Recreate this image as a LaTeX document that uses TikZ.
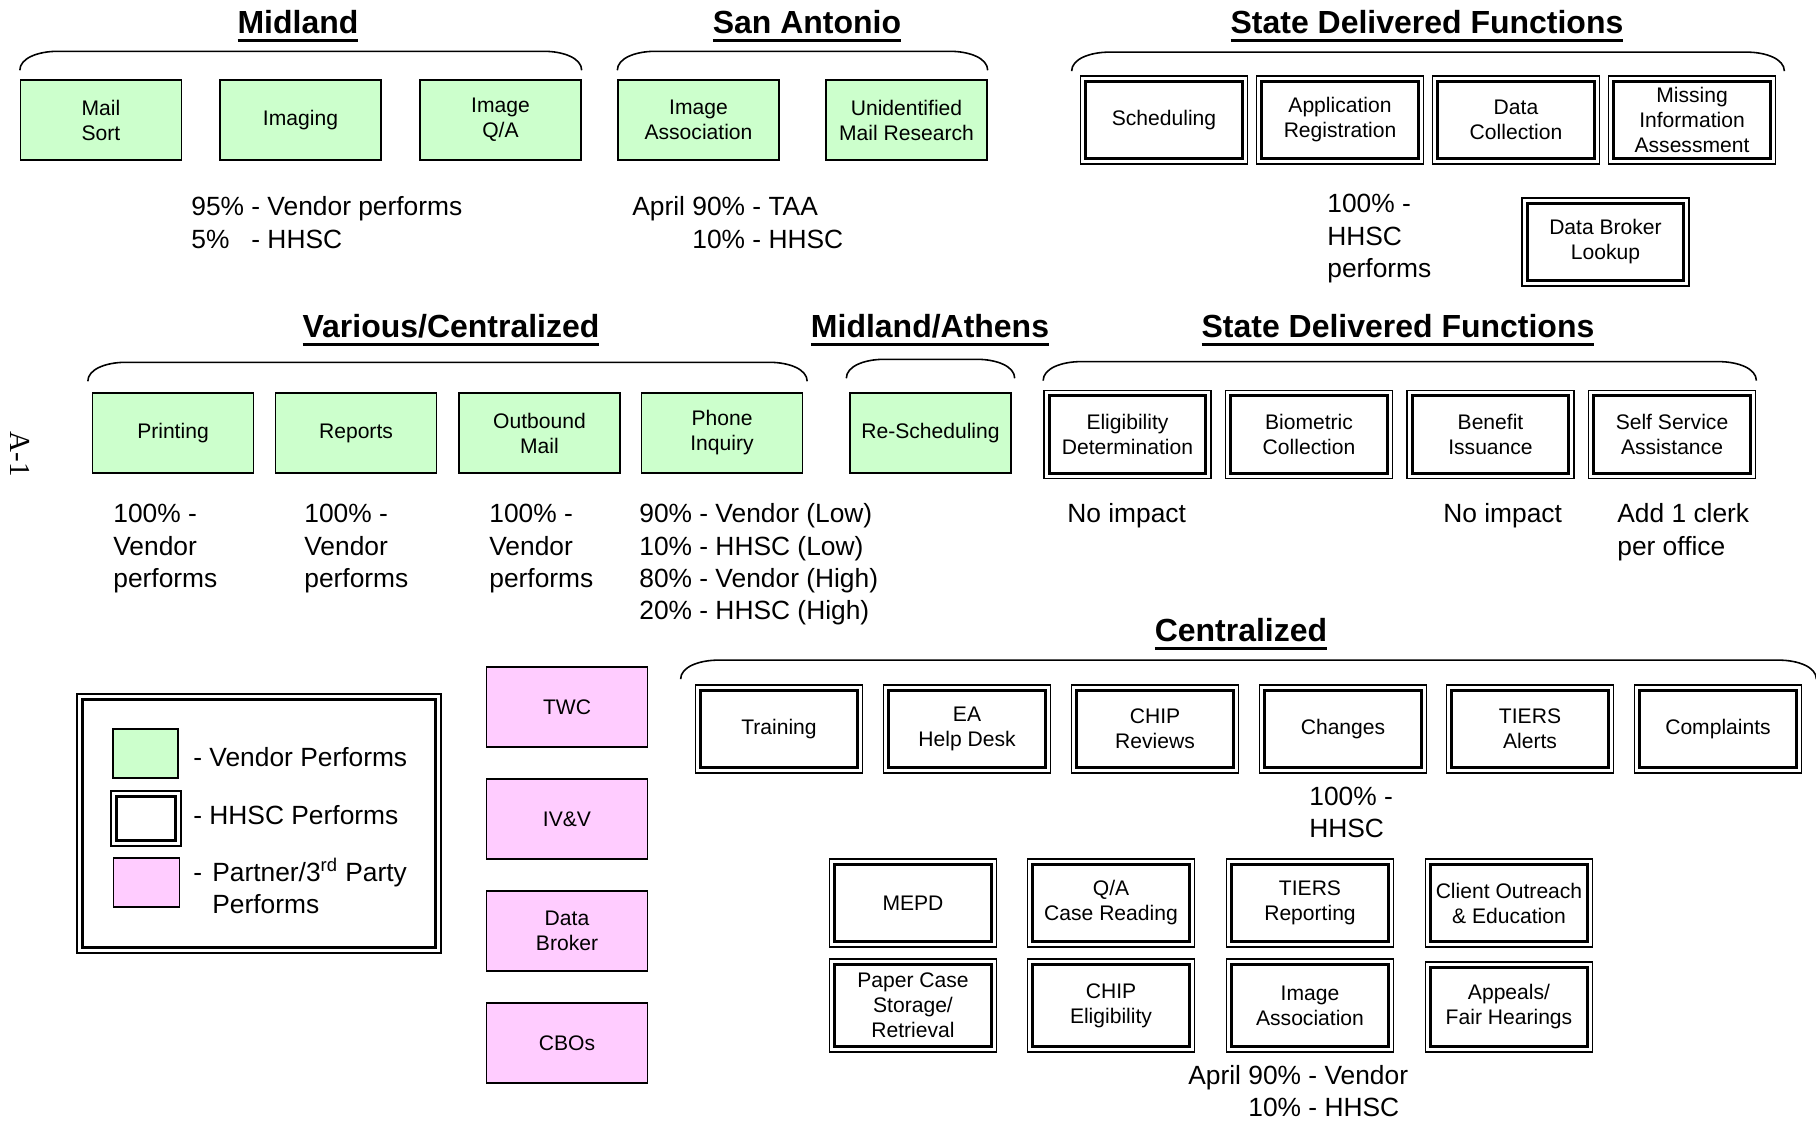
\documentclass[tikz,border=0pt]{standalone}
\usepackage{fontspec}
\setmainfont{Liberation Sans}
\newfontfamily\pagefont{Liberation Serif}
\usepackage{xcolor}
\definecolor{vendorgreen}{HTML}{CCFFCC}
\definecolor{partnerpink}{HTML}{FFCCFF}
\newsavebox\titlebox
\newcommand{\grouptitle}[1]{\sbox\titlebox{#1}\rlap{\usebox\titlebox}\rule[-4.3pt]{\wd\titlebox}{1.4pt}}

\begin{document}
\begin{tikzpicture}[x=0.02cm, y=-0.02cm,
    boxtext/.style={font=\fontsize{12}{14.2}\selectfont, align=center, inner sep=2pt},
    vendor/.style={boxtext, draw, line width=0.8pt, fill=vendorgreen, minimum width=3.22cm, minimum height=1.6cm},
    partner/.style={vendor, fill=partnerpink},
    hhsc/.style={boxtext, draw, line width=1pt, fill=white, minimum width=3.34cm, minimum height=1.76cm,
      path picture={\draw[line width=1.8pt] ([shift={(3pt,-3pt)}]path picture bounding box.north west)
        rectangle ([shift={(-3pt,3pt)}]path picture bounding box.south east);}},
    heading/.style={font=\bfseries\fontsize{18.2}{22}\selectfont, anchor=base, inner sep=0pt},
    note/.style={font=\fontsize{15}{18.4}\selectfont, anchor=base west, inner sep=0pt},
    hood/.style 2 args={line width=0.9pt, to path={([shift={(-#1,-#2)}]\tikztostart.north west)
      .. controls +(0,-12) and +(-20,0) .. ([shift={(38-#1,-#2-19)}]\tikztostart.north west)
      -- ([shift={(#1-38,-#2-19)}]\tikztotarget.north east)
      .. controls +(20,0) and +(0,-12) .. ([shift={(#1,-#2)}]\tikztotarget.north east)}}]

    \useasboundingbox (0,0) rectangle (1816,1121);

    % Midland
    \node[heading] (midlandttl) at (298,34) {\grouptitle{Midland}};
    \node[vendor] (mailsort) at (101,120) {Mail\\Sort};
    \node[vendor] (imaging) at (300.5,120) {Imaging};
    \node[vendor] (imageqa) at (500.5,120) {Image\\Q/A};
    \draw[hood={0}{9}] (mailsort) to (imageqa);
    \node[note] (midlandpct) at (191,216) {\begin{tabular}[t]{@{}l@{\ }l@{}}95\% & - Vendor performs\\5\% & - HHSC\end{tabular}};

    % San Antonio
    \node[heading] (santonttl) at (807,34) {\grouptitle{San Antonio}};
    \node[vendor] (imgassoc) at (698.5,120) {Image\\Association};
    \node[vendor] (unident) at (906.5,120) {Unidentified\\Mail Research};
    \draw[hood={0}{9}] (imgassoc) to (unident);
    \node[note] (santonpct) at (632,216) {\begin{tabular}[t]{@{}l@{\ }l@{}}April & 90\% - TAA\\ & 10\% - HHSC\end{tabular}};

    % State Delivered Functions (top)
    \node[heading] (statettl) at (1427,34) {\grouptitle{State Delivered Functions}};
    \node[hhsc] (sched) at (1164,120) {Scheduling};
    \node[hhsc] (appreg) at (1340,120) {Application\\Registration};
    \node[hhsc] (datacoll) at (1516,120) {Data\\Collection};
    \node[hhsc] (missing) at (1692,120) {Missing\\Information\\Assessment};
    \draw[hood={8}{4}] (sched) to (missing);
    \node[note] (statepct) at (1327,213) {\begin{tabular}[t]{@{}l@{}}100\% -\\HHSC\\performs\end{tabular}};
    \node[hhsc] (brokerlook) at (1605.5,242) {Data Broker\\Lookup};

    % Various/Centralized
    \node[heading] (variousttl) at (451,338) {\grouptitle{Various/Centralized}};
    \node[vendor] (printing) at (173,433) {Printing};
    \node[vendor] (reports) at (356,433) {Reports};
    \node[vendor] (outbound) at (539.5,433) {Outbound\\Mail};
    \node[vendor] (phone) at (722,433) {Phone\\Inquiry};
    \draw[hood={4}{11}] (printing) to (phone);
    \node[note] (printpct) at (113,523) {\begin{tabular}[t]{@{}l@{}}100\% -\\Vendor\\performs\end{tabular}};
    \node[note] (reportpct) at (304,523) {\begin{tabular}[t]{@{}l@{}}100\% -\\Vendor\\performs\end{tabular}};
    \node[note] (outboundpct) at (489,523) {\begin{tabular}[t]{@{}l@{}}100\% -\\Vendor\\performs\end{tabular}};
    \node[note] (phonepct) at (639,523) {\begin{tabular}[t]{@{}l@{}}90\% - Vendor (Low)\\10\% - HHSC (Low)\\80\% - Vendor (High)\\20\% - HHSC (High)\end{tabular}};

    % Midland/Athens
    \node[heading] (athensttl) at (930,338) {\grouptitle{Midland/Athens}};
    \node[vendor] (resched) at (930.5,433) {Re-Scheduling};
    \draw[hood={3}{14}] (resched) to (resched);

    % State Delivered Functions (middle)
    \node[heading] (state2ttl) at (1398,338) {\grouptitle{State Delivered Functions}};
    \node[hhsc] (elig) at (1127.5,434.5) {Eligibility\\Determination};
    \node[hhsc] (biometric) at (1309,434.5) {Biometric\\Collection};
    \node[hhsc] (benefit) at (1490.5,434.5) {Benefit\\Issuance};
    \node[hhsc] (selfserv) at (1672,434.5) {Self Service\\Assistance};
    \draw[hood={0}{9}] (elig) to (selfserv);
    \node[note] (eligpct) at (1067,523) {No impact};
    \node[note] (benefitpct) at (1443,523) {No impact};
    \node[note] (selfpct) at (1617,523) {\begin{tabular}[t]{@{}l@{}}Add 1 clerk\\per office\end{tabular}};

    % Centralized
    \node[heading] (centralttl) at (1241,642) {\grouptitle{Centralized}};
    \node[hhsc] (training) at (779,729) {Training};
    \node[hhsc] (eahelp) at (967,729) {EA\\Help Desk};
    \node[hhsc] (chiprev) at (1155,729) {CHIP\\Reviews};
    \node[hhsc] (changes) at (1343,729) {Changes};
    \node[hhsc] (tiersal) at (1530,729) {TIERS\\Alerts};
    \node[hhsc] (complaints) at (1718,729) {Complaints};
    \draw[hood={14}{5}] (training) to (complaints);
    \node[note] (centralpct) at (1309,805) {\begin{tabular}[t]{@{}l@{}}100\% -\\HHSC\end{tabular}};
    \node[hhsc] (mepd) at (913,903) {MEPD};
    \node[hhsc] (qacase) at (1111,903) {Q/A\\Case Reading};
    \node[hhsc] (tiersrep) at (1310,903) {TIERS\\Reporting};
    \node[hhsc] (outreach) at (1509,903) {Client Outreach\\\& Education};
    \node[hhsc, minimum height=1.86cm] (papercase) at (913,1005.5) {Paper Case\\Storage/\\Retrieval};
    \node[hhsc, minimum height=1.86cm] (chipelig) at (1111,1005.5) {CHIP\\Eligibility};
    \node[hhsc, minimum height=1.86cm] (imgassoc2) at (1310,1005.5) {Image\\Association};
    \node[hhsc, minimum height=1.8cm] (appeals) at (1509,1007) {Appeals/\\Fair Hearings};
    \node[note] (imgpct) at (1188,1084) {\begin{tabular}[t]{@{}l@{\ }l@{}}April & 90\% - Vendor\\ & 10\% - HHSC\end{tabular}};

    % Partners
    \node[partner] (twc) at (567,707) {TWC};
    \node[partner] (ivv) at (567,819) {IV\&V};
    \node[partner] (broker) at (567,931) {Data\\Broker};
    \node[partner] (cbos) at (567,1043) {CBOs};

    % Legend
    \node[hhsc, minimum width=7.28cm, minimum height=5.18cm] (legend) at (259,823.5) {};
    \node[vendor, minimum width=1.3cm, minimum height=0.98cm] (keyvendor) at (145.5,753.5) {};
    \node[hhsc, minimum width=1.4cm, minimum height=1.1cm] (keyhhsc) at (146,818.5) {};
    \node[partner, minimum width=1.32cm, minimum height=0.98cm] (keypartner) at (146.5,882.5) {};
    \node[note] (keyvendortxt) at (193,766) {- Vendor Performs};
    \node[note] (keyhhsctxt) at (193,824) {- HHSC Performs};
    \node[note] (keypartnertxt) at (193,881) {\begin{tabular}[t]{@{}l@{\hspace{5.8pt}}l@{}}- & Partner/3\textsuperscript{rd} Party\\ & Performs\end{tabular}};

    % Page label
    \node[font=\pagefont\fontsize{16.5}{20}\selectfont, rotate=-90] (pagelabel) at (20,454) {A-1};
\end{tikzpicture}
\end{document}
